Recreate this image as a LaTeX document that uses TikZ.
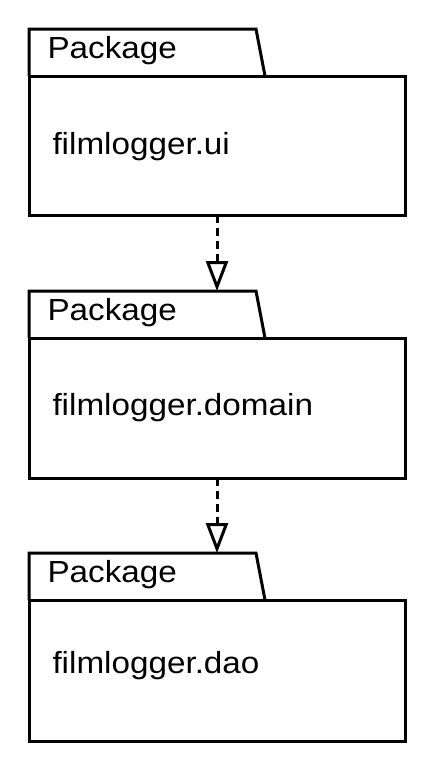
\documentclass[tikz,border=0pt]{standalone}
\usepackage{fontspec}
\setmainfont{Liberation Sans}[FakeStretch=1.09]
\usetikzlibrary{arrows.meta}
\begin{document}
\begin{tikzpicture}[x=1pt,y=-1pt, line width=3pt, line join=miter,
  pkgbody/.style={draw, rectangle, minimum width=376pt, anchor=north west, inner sep=0pt, outer sep=0pt},
  pkgtab/.style={draw},
  lbl/.style={anchor=base west, inner sep=0pt, font=\fontsize{30.5pt}{36pt}\selectfont},
  dep/.style={dash pattern=on 8pt off 5pt, -{Triangle[open, length=30pt, width=22pt, line width=3pt]}}]
\useasboundingbox (0,0) rectangle (437,771);
% package 1
\draw[pkgtab] (29,76) -- (29,29) -- (256,29) -- (265,76);
\node[pkgbody, minimum height=139pt] (ui) at (29,76) {};
\node[lbl] (uitab) at (46,58) {Package};
\node[lbl] (uiname) at (51,154) {filmlogger.ui};
% package 2
\draw[pkgtab] (29,338) -- (29,291) -- (256,291) -- (265,338);
\node[pkgbody, minimum height=140pt] (domain) at (29,338) {};
\node[lbl] (domaintab) at (46,320) {Package};
\node[lbl] (domainname) at (51,415) {filmlogger.domain};
\coordinate (domaintop) at (217,291);
% package 3
\draw[pkgtab] (29,600) -- (29,553) -- (256,553) -- (265,600);
\node[pkgbody, minimum height=141pt] (dao) at (29,600) {};
\node[lbl] (daotab) at (46,582) {Package};
\node[lbl] (daoname) at (51,673) {filmlogger.dao};
\coordinate (daotop) at (217,553);
% dependencies
\draw[dep] (ui.south) -- (domaintop);
\draw[dep] (domain.south) -- (daotop);
\end{tikzpicture}
\end{document}
